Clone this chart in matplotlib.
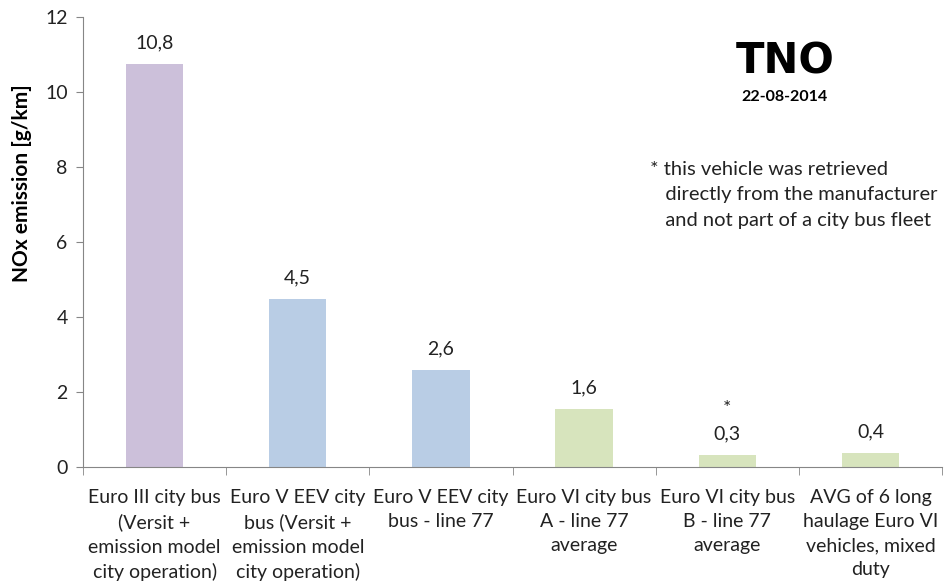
import matplotlib
matplotlib.use("Agg")
import matplotlib.pyplot as plt
import numpy as np

categories = [
    "Euro III city bus\n(Versit +\nemission model\ncity operation)",
    "Euro V EEV city\nbus (Versit +\nemission model\ncity operation)",
    "Euro V EEV city\nbus - line 77",
    "Euro VI city bus\nA - line 77\naverage",
    "Euro VI city bus\nB - line 77\naverage",
    "AVG of 6 long\nhaulage Euro VI\nvehicles, mixed\nduty",
]
values = [10.75, 4.48, 2.59, 1.55, 0.32, 0.37]
colors = ["#CCC0DA", "#B9CDE5", "#B9CDE5", "#D7E4BD", "#D7E4BD", "#D7E4BD"]

plt.rcParams['font.family'] = ['Lato', 'DejaVu Sans']

fig = plt.figure(figsize=(9.52, 5.87), dpi=100)
ax = fig.add_axes([83/952, 1-467/587, (942-83)/952, 450/587])

x = np.arange(len(categories))
ax.bar(x, values, width=0.4, color=colors, zorder=2)
ax.set_xlim(-0.5, len(categories)-0.5)
ax.set_ylim(0, 12)
ax.set_yticks(range(0, 13, 2))
ax.tick_params(axis='y', labelsize=14, colors='#868686', labelcolor='#222222', length=5, pad=6)
ax.set_xticks(x)
ax.set_xticklabels(categories, fontsize=14, linespacing=1.5, color='#222222')
ax.set_xticks(np.arange(-0.5, len(categories), 1), minor=True)
ax.tick_params(axis='x', which='major', length=0, pad=16)
ax.tick_params(axis='x', which='minor', length=6, color='#868686')

for s in ['top', 'right']:
    ax.spines[s].set_visible(False)
for s in ['left', 'bottom']:
    ax.spines[s].set_color('#868686')

for xi, v in zip(x, values):
    ax.annotate(f"{v:.1f}".replace('.', ','), (xi, v), xytext=(0, 9),
                textcoords='offset points', ha='center', va='bottom', fontsize=14, color='#222222')
ax.annotate("*", (x[4], values[4]), xytext=(0, 27), textcoords='offset points',
            ha='center', va='bottom', fontsize=14, color='#222222')

ax.set_ylabel("NOx emission [g/km]", fontsize=15, fontweight='bold')
ax.yaxis.set_label_coords(-51/859, (467-183)/450)

fig.text(785/952, 1-62/587, "TNO", fontsize=30, fontweight='heavy', ha='center', va='center',
         family=['DejaVu Sans'])
fig.text(785/952, 1-97/587, "22-08-2014", fontsize=11.5, fontweight='bold', ha='center', va='center')
fig.text(650/952, 1-195/587,
         "* this vehicle was retrieved\n   directly from the manufacturer\n   and not part of a city bus fleet",
         fontsize=14.5, ha='left', va='center', linespacing=1.6, color='#222222')

fig.savefig("out.png", dpi=100)
